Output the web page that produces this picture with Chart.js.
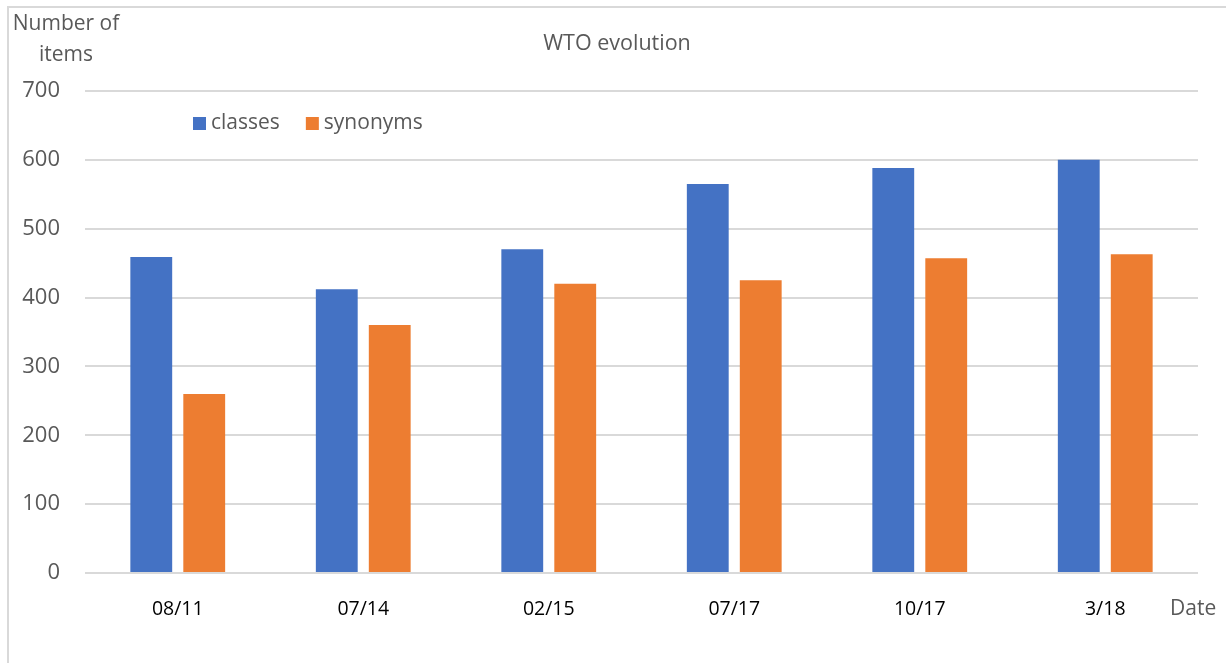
<!DOCTYPE html>
<html>
<head>
<meta charset="utf-8">
<script src="https://cdn.jsdelivr.net/npm/chart.js@4"></script>
<style>
  html, body { margin: 0; padding: 0; background: #fff; }
  #wrap { position: relative; width: 1226px; height: 663px; }
  #frame { position: absolute; left: 7px; top: 6px; width: 1230px; height: 670px;
           border-left: 2px solid #d9d9d9; border-top: 2px solid #d9d9d9; }
  canvas { position: absolute; left: 0; top: 0; }
</style>
</head>
<body>
<div id="wrap">
  <div id="frame"></div>
  <canvas id="chart" width="1226" height="663"></canvas>
</div>
<script>
// Données
const dates = ['08/11', '07/14', '02/15', '07/17', '10/17', '3/18'];
const classes = [459, 412, 470, 565, 588, 600];
const synonyms = [260, 360, 420, 425, 457, 463];
const yTicks = [0, 100, 200, 300, 400, 500, 600, 700];

const FONT = '"Open Sans", "Liberation Sans", sans-serif';
const GREY = '#595959';

// Titres, légende et libellés d'axes dessinés à la main
const extras = {
    id: 'extras',
    afterDraw(chart) {
        const ctx = chart.ctx;
        ctx.save();
        ctx.fillStyle = GREY;
        ctx.textBaseline = 'middle';

        ctx.font = '21.5px ' + FONT;
        ctx.textAlign = 'center';
        ctx.fillText('WTO evolution', 617, 44);
        ctx.font = '21px ' + FONT;
        ctx.fillText('Number of', 66, 24);
        ctx.fillText('items', 66, 55);

        ctx.textAlign = 'left';
        ctx.fillText('Date', 1170, 609);

        // légende
        let x = 193;
        ctx.font = '21px ' + FONT;
        chart.data.datasets.forEach(ds => {
            ctx.fillStyle = ds.backgroundColor;
            ctx.fillRect(x, 117, 13, 13);
            ctx.fillStyle = GREY;
            ctx.fillText(ds.label, x + 18, 123);
            x += 18 + ctx.measureText(ds.label).width + 26;
        });
        ctx.restore();
    }
};

new Chart(document.getElementById('chart'), {
    type: 'bar',
    data: {
        labels: dates,
        datasets: [{
            label: 'classes',
            data: classes,
            backgroundColor: '#4472C4',
            categoryPercentage: 0.571,
            barPercentage: 0.79
        }, {
            label: 'synonyms',
            data: synonyms,
            backgroundColor: '#ED7D31',
            categoryPercentage: 0.571,
            barPercentage: 0.79
        }]
    },
    options: {
        responsive: false,
        animation: false,
        layout: {
            padding: { top: 91, right: 28, bottom: 0, left: 0 }
        },
        plugins: {
            legend: { display: false },
            tooltip: { enabled: false },
            title: { display: false }
        },
        scales: {
            y: {
                min: 0,
                max: 700,
                afterFit: s => { s.width = 85; },
                afterBuildTicks: s => { s.ticks = yTicks.map(v => ({ value: v })); },
                ticks: {
                    padding: 25,
                    color: GREY,
                    font: { family: FONT, size: 22 }
                },
                grid: {
                    color: '#d9d9d9',
                    lineWidth: 2,
                    drawTicks: false
                },
                border: { display: false }
            },
            x: {
                afterFit: s => { s.height = 90; },
                ticks: {
                    padding: 25,
                    color: '#000',
                    font: { family: FONT, size: 19.5 }
                },
                grid: { display: false, drawTicks: false },
                border: { display: false }
            }
        }
    },
    plugins: [extras]
});
</script>
</body>
</html>
